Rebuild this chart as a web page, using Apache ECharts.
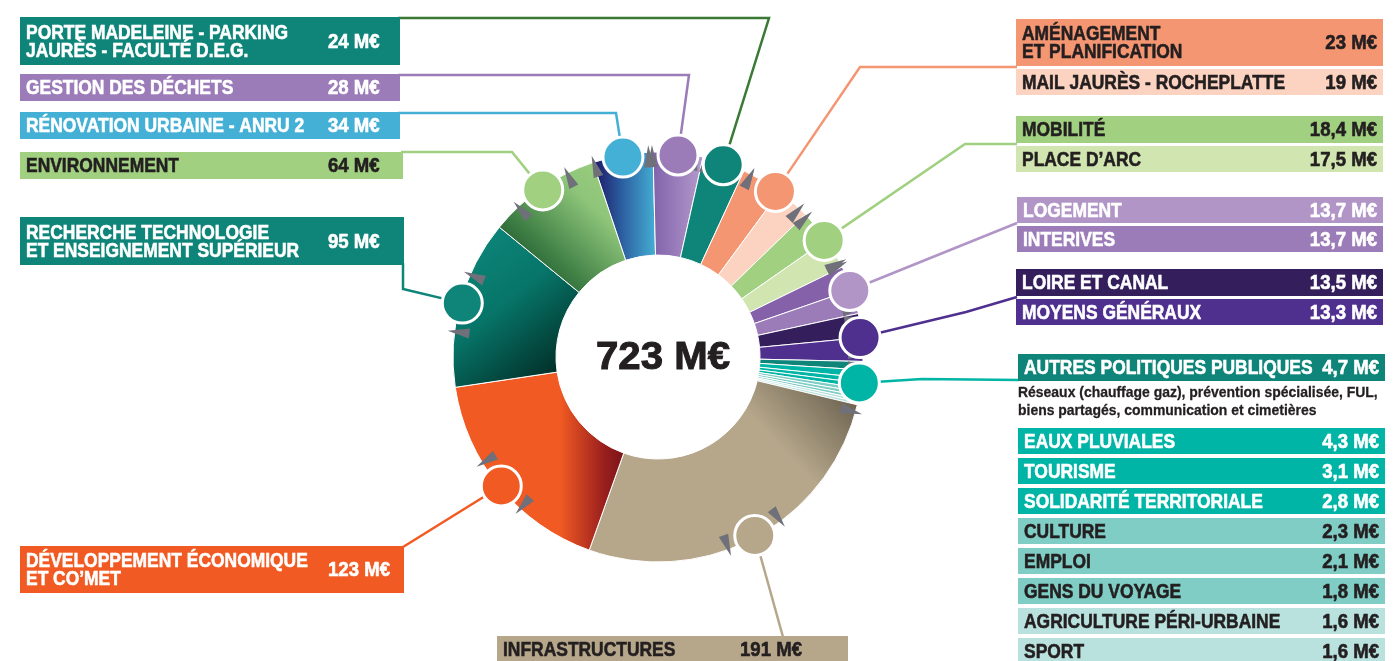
<!DOCTYPE html>
<html><head><meta charset="utf-8">
<script src="https://cdn.jsdelivr.net/npm/echarts@6/dist/echarts.min.js"></script>
<style>html,body{margin:0;padding:0;background:#fff}#c{width:1394px;height:661px}</style>
</head><body><div id="c"></div>
<script>
// ---------- DATA ----------
const CATEGORIES = [
  'RÉNOVATION URBAINE - ANRU 2',
  'GESTION DES DÉCHETS',
  'PORTE MADELEINE - PARKING\nJAURÈS - FACULTÉ D.E.G.',
  'AMÉNAGEMENT\nET PLANIFICATION',
  'MAIL JAURÈS - ROCHEPLATTE',
  'MOBILITÉ',
  'PLACE D’ARC',
  'LOGEMENT',
  'INTERIVES',
  'LOIRE ET CANAL',
  'MOYENS GÉNÉRAUX',
  'AUTRES POLITIQUES PUBLIQUES',
  'EAUX PLUVIALES',
  'TOURISME',
  'SOLIDARITÉ TERRITORIALE',
  'CULTURE',
  'EMPLOI',
  'GENS DU VOYAGE',
  'AGRICULTURE PÉRI-URBAINE',
  'SPORT',
  'INFRASTRUCTURES',
  'DÉVELOPPEMENT ÉCONOMIQUE\nET CO’MET',
  'RECHERCHE TECHNOLOGIE\nET ENSEIGNEMENT SUPÉRIEUR',
  'ENVIRONNEMENT'
];
const VALUES = [34, 28, 24, 23, 19, 18.4, 17.5, 13.7, 13.7, 13.5, 13.3, 4.7, 4.3, 3.1, 2.8, 2.3, 2.1, 1.8, 1.6, 1.6, 191, 123, 95, 64];
const TOTAL_LABEL = '723 M€';
const SUBTITLE = ['Réseaux (chauffage gaz), prévention spécialisée, FUL,', 'biens partagés, communication et cimetières'];
// groups of categories that share one marker circle
const GROUPS = [[0], [1], [2], [3, 4], [5, 6], [7, 8], [9, 10], [11, 12, 13, 14, 15, 16, 17, 18, 19], [20], [21], [22], [23]];

// ---------- STYLE ----------
const COLORS = ['#45b0d5', '#9b7bb8', '#0f857a', '#f59673', '#fcd3c1', '#a0d080', '#d0e5b0', '#b195c7', '#9b7bb8', '#341f5c', '#50308f',
  '#0f857a', '#00b5a5', '#00b5a5', '#00b5a5', '#7fcdc4', '#7fcdc4', '#7fcdc4', '#b9e2df', '#b9e2df', '#b6a78b', '#f15a22', '#0f857a', '#a0d080'];
const DARK = '#231f20';
const TEXT_COLORS = ['#fff', '#fff', '#fff', DARK, DARK, DARK, DARK, '#fff', '#fff', '#fff', '#fff', '#fff', '#fff', '#fff', '#fff',
  DARK, DARK, DARK, DARK, DARK, DARK, '#fff', '#fff', DARK];
const CIRCLE_COLORS = ['#45b0d5', '#9b7bb8', '#0f857a', '#f59673', '#a0d080', '#b195c7', '#50308f', '#00b5a5', '#b6a78b', '#f15a22', '#0f857a', '#a0d080'];
const LINE_COLORS = ['#45b0d5', '#9b7bb8', '#3b7a34', '#f59673', '#a0d080', '#b195c7', '#50308f', '#00b5a5', '#b6a78b', '#f15a22', '#0f857a', '#a0d080'];
const FONT = '"Liberation Sans","Arial",sans-serif';

const START_ANGLE = 108.5;
const CX = 658, CY = 357, R_IN = 102, R_OUT = 205, R_MARK = 203;

// box layout: category index, rect, value text position
const BOXES = [
  {i: 2, x: 20, y: 17, w: 380, h: 48, vx: 328, va: 'left'},
  {i: 1, x: 20, y: 74, w: 380, h: 27, vx: 328, va: 'left'},
  {i: 0, x: 20, y: 112, w: 380, h: 27, vx: 328, va: 'left'},
  {i: 23, x: 20, y: 152, w: 383, h: 27, vx: 328, va: 'left'},
  {i: 22, x: 20, y: 217, w: 384, h: 48, vx: 328, va: 'left'},
  {i: 21, x: 20, y: 546, w: 384, h: 47, vx: 328, va: 'left'},
  {i: 20, x: 497, y: 636, w: 351, h: 26, vx: 740, va: 'left'},
  {i: 3, x: 1016, y: 19, w: 367, h: 47, vx: 1377, va: 'right'},
  {i: 4, x: 1016, y: 69, w: 367, h: 26, vx: 1377, va: 'right'},
  {i: 5, x: 1016, y: 116, w: 367, h: 27, vx: 1377, va: 'right'},
  {i: 6, x: 1016, y: 146, w: 367, h: 26, vx: 1377, va: 'right'},
  {i: 7, x: 1017, y: 197, w: 366, h: 26, vx: 1377, va: 'right'},
  {i: 8, x: 1017, y: 226, w: 366, h: 26, vx: 1377, va: 'right'},
  {i: 9, x: 1016, y: 269, w: 367, h: 27, vx: 1377, va: 'right'},
  {i: 10, x: 1016, y: 299, w: 367, h: 26, vx: 1377, va: 'right'},
  {i: 11, x: 1018, y: 354, w: 367, h: 27, vx: 1379, va: 'right'},
  {i: 12, x: 1018, y: 428, w: 367, h: 26, vx: 1379, va: 'right'},
  {i: 13, x: 1018, y: 458, w: 367, h: 26, vx: 1379, va: 'right'},
  {i: 14, x: 1018, y: 488, w: 367, h: 26, vx: 1379, va: 'right'},
  {i: 15, x: 1018, y: 518, w: 367, h: 26, vx: 1379, va: 'right'},
  {i: 16, x: 1018, y: 548, w: 367, h: 26, vx: 1379, va: 'right'},
  {i: 17, x: 1018, y: 578, w: 367, h: 26, vx: 1379, va: 'right'},
  {i: 18, x: 1018, y: 608, w: 367, h: 26, vx: 1379, va: 'right'},
  {i: 19, x: 1018, y: 638, w: 367, h: 26, vx: 1379, va: 'right'}
];
// leader line bend points per group (end point = marker circle)
const LINE_BENDS = [
  [[398, 113], [616, 113]],
  [[398, 75], [689, 75]],
  [[398, 18], [769, 18]],
  [[1017, 67], [860, 67]],
  [[1017, 144], [965, 144]],
  [[1017, 223]],
  [[1017, 297], [966, 312]],
  [[1019, 380], [922, 379]],
  [[783, 637]],
  [[403, 547]],
  [[403, 263], [403, 289]],
  [[401, 152], [512, 152]]
];

const fmt = v => (Number.isInteger(v) ? String(v) : String(v).replace('.', ',')) + ' M€';
const TOTAL = VALUES.reduce((a, b) => a + b, 0);
const cum = [];
VALUES.reduce((a, v, k) => { cum[k] = a; return a + v; }, 0);

function lg(x, y, x2, y2, stops) {
  return {type: 'linear', x, y, x2, y2, colorStops: stops.map(s => ({offset: s[0], color: s[1]}))};
}
const FILLS = COLORS.slice();
FILLS[0] = lg(0, 0, 1, 0, [[0, '#1b1464'], [0.45, '#2b5d9e'], [1, '#45b0d5']]);
FILLS[1] = lg(0, 0, 1, 0, [[0, '#8162ab'], [1, '#b59bcc']]);
FILLS[7] = '#8461a9';
FILLS[20] = lg(1, 0, 0.5, 0.7, [[0, '#5e5645'], [0.55, '#b6a78b'], [1, '#b6a78b']]);
FILLS[21] = lg(0, 0, 1, 0, [[0, '#f15a22'], [0.62, '#f15a22'], [0.88, '#9a1f1e'], [1, '#7a1418']]);
FILLS[22] = lg(0, 0, 1, 1, [[0, '#0f897d'], [0.45, '#077569'], [1, '#001a14']]);
FILLS[23] = lg(0, 1, 1, 0, [[0, '#03361a'], [0.35, '#3f7f45'], [0.7, '#8ec57a'], [1, '#a0d080']]);

const groupMid = GROUPS.map(g => (cum[g[0]] + cum[g[g.length - 1]] + VALUES[g[g.length - 1]]) / 2);
const compass = v => 90 - START_ANGLE + v / TOTAL * 360;
const TRI_OFF = 8.3 / 360 * TOTAL;

const chart = echarts.init(document.getElementById('c'), null, {renderer: 'canvas'});
const option = {
  animation: false,
  backgroundColor: '#fff',
  polar: {center: [CX, CY], radius: R_OUT},
  angleAxis: {type: 'value', min: 0, max: TOTAL, startAngle: START_ANGLE, clockwise: true,
    axisLine: {show: false}, axisTick: {show: false}, axisLabel: {show: false}, splitLine: {show: false}},
  radiusAxis: {type: 'value', min: 0, max: R_OUT,
    axisLine: {show: false}, axisTick: {show: false}, axisLabel: {show: false}, splitLine: {show: false}},
  series: [
    {
      type: 'scatter', coordinateSystem: 'polar', z: 1, silent: true, symbol: 'rect', symbolSize: 54,
      itemStyle: {color: '#fff', borderColor: '#c9c9c9', borderWidth: 1, opacity: 1},
      data: groupMid.map(m => ({value: [R_OUT + 1, m], symbolRotate: -compass(m)}))
    },
    {
      type: 'pie', z: 2, silent: true, center: [CX, CY], radius: [R_IN, R_OUT], startAngle: START_ANGLE, clockwise: true,
      label: {show: false}, labelLine: {show: false}, avoidLabelOverlap: false,
      itemStyle: {borderColor: '#fff', borderWidth: 1},
      data: CATEGORIES.map((n, k) => ({name: n, value: VALUES[k], itemStyle: {color: FILLS[k]}}))
    },
    {
      type: 'scatter', coordinateSystem: 'polar', z: 3, silent: true, symbol: 'triangle', symbolSize: [10, 22],
      itemStyle: {color: '#6f7079', opacity: 1},
      data: groupMid.flatMap(m => [m - TRI_OFF, m + TRI_OFF].map(a => ({value: [R_MARK - 2, a], symbolRotate: -compass(a)})))
    },
    {
      type: 'scatter', coordinateSystem: 'polar', z: 5, silent: true, symbol: 'circle', symbolSize: 40,
      data: groupMid.map((m, g) => ({value: [R_MARK, m], itemStyle: {color: CIRCLE_COLORS[g], borderColor: '#fff', borderWidth: 3, opacity: 1}}))
    }
  ]
};
chart.setOption(option);

// ---------- graphics: boxes, texts, leader lines ----------
function txt(x, y, text, size, fill, align, vAlign, lh, sx, sw) {
  return {type: 'text', z: 7, silent: true, x: x, y: y, scaleX: sx,
    style: {text: text, fill: fill, stroke: fill, lineWidth: sw, font: 'bold ' + size + 'px ' + FONT, lineHeight: lh || size,
      textAlign: align, textVerticalAlign: vAlign, align: align, verticalAlign: vAlign}};
}
const graphics = [];
groupMid.forEach((m, g) => {
  const p = chart.convertToPixel({seriesIndex: 3}, [R_MARK, m]);
  graphics.push({type: 'polyline', z: 4, silent: true,
    shape: {points: LINE_BENDS[g].concat([p])},
    style: {stroke: LINE_COLORS[g], lineWidth: 2.5, fill: null}});
});
BOXES.forEach(b => {
  graphics.push({type: 'rect', z: 6, silent: true, shape: {x: b.x, y: b.y, width: b.w, height: b.h}, style: {fill: COLORS[b.i]}});
  graphics.push(txt(b.x + 6, b.y + b.h / 2 + 1, CATEGORIES[b.i], 21, TEXT_COLORS[b.i], 'left', 'middle', 18, 0.83, 0.6));
  graphics.push(txt(b.vx, b.y + b.h / 2 + 1, fmt(VALUES[b.i]), 20, TEXT_COLORS[b.i], b.va, 'middle', 20, 0.93, 0.6));
});
graphics.push(txt(1018, 384, SUBTITLE.join('\n'), 15, DARK, 'left', 'top', 18, 0.93, 0.3));
graphics.push(txt(CX + 5, CY + 1, TOTAL_LABEL, 39, DARK, 'center', 'middle', 39, 1.03, 1));
chart.setOption({graphic: {elements: graphics}});
</script></body></html>
